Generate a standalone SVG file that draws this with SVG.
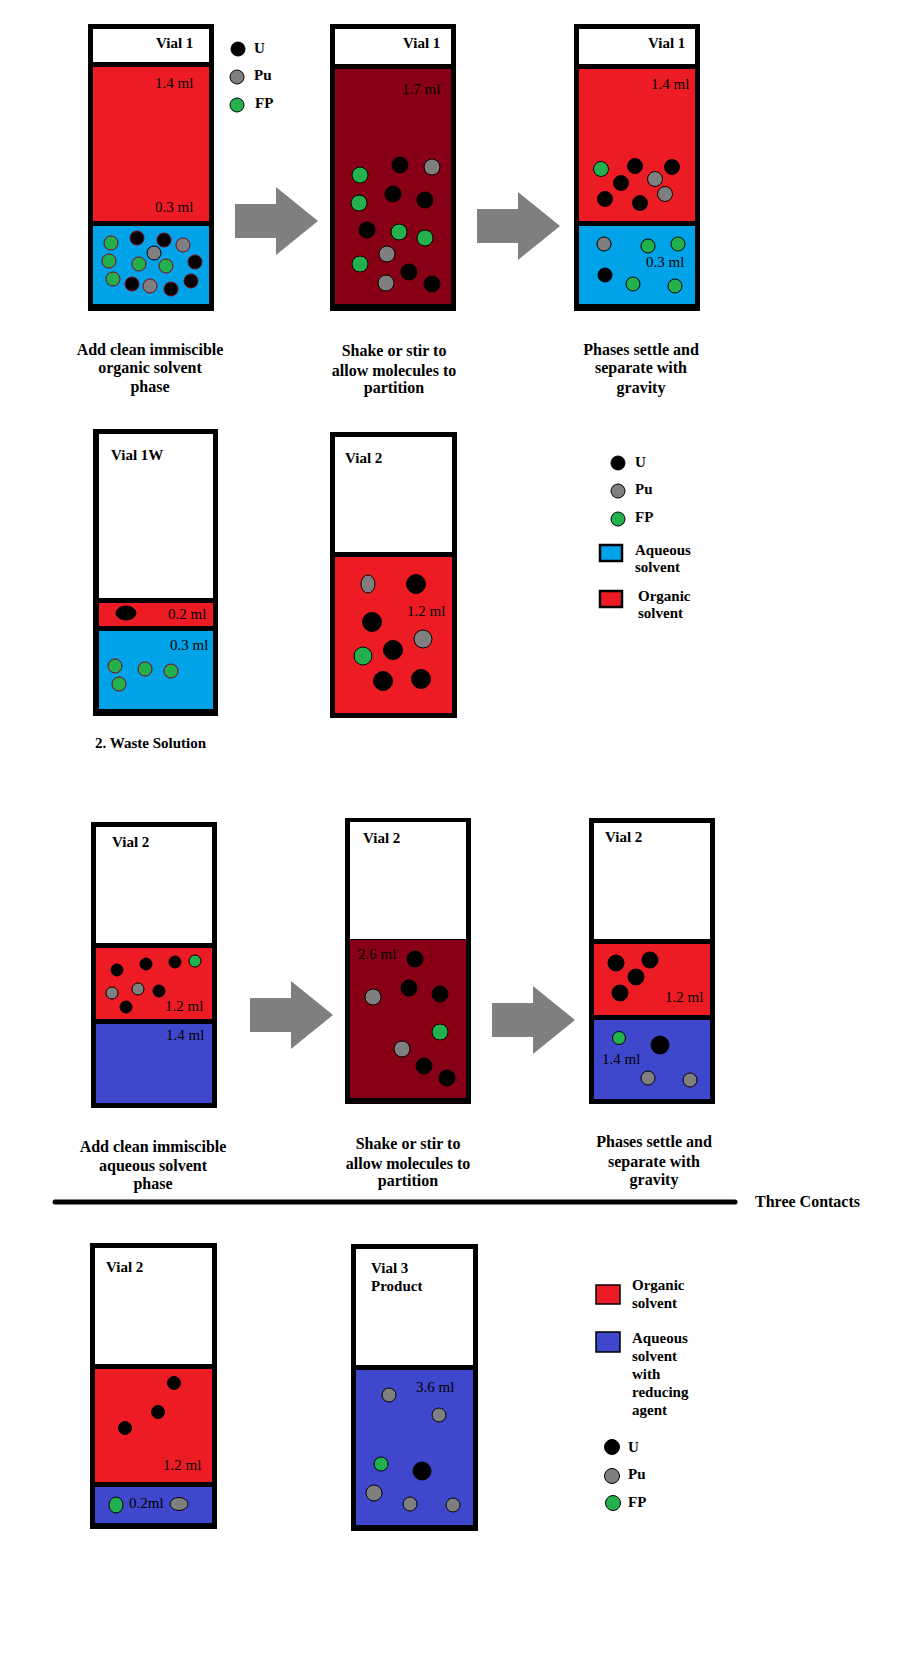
<svg xmlns="http://www.w3.org/2000/svg" width="904" height="1672" viewBox="0 0 904 1672">
<style>
.frame{fill:#000}
.w{fill:#fff}
.r{fill:#ed1c24}
.b{fill:#00a2e8}
.dr{fill:#880015}
.v{fill:#3f48cc}
.u{fill:#000;stroke:#000;stroke-width:1}
.pu{fill:#7f7f7f;stroke:#000;stroke-width:1}
.fp{fill:#22b14c;stroke:#000;stroke-width:1}
.rs{stroke:#880015}
text{font-family:"Liberation Serif","Times New Roman",serif;fill:#000}
.t{font-size:15px;font-weight:bold}
.ml{font-size:15px}
.cap{font-size:16px;font-weight:bold;text-anchor:middle}
.arrow{fill:#7f7f7f}
</style>
<defs>
<path id="arr" d="M0,-17 H41 V-34 L83,0 L41,34 V17 H0 Z"/>
</defs>
<rect width="904" height="1672" fill="#fff"/>

<g id="vialA">
<rect class="frame" x="88" y="24" width="126" height="287"/>
<rect class="w" x="93" y="29" width="116" height="33"/>
<rect class="r" x="93" y="67" width="116" height="154"/>
<rect class="b" x="93" y="226" width="116" height="78"/>
<text class="t" x="156" y="48">Vial 1</text>
<text class="ml" x="155" y="88">1.4 ml</text>
<text class="ml" x="155" y="212">0.3 ml</text>
<circle class="fp rs" cx="111" cy="243" r="7"/>
<circle class="u rs" cx="137" cy="238" r="7"/>
<circle class="u rs" cx="164" cy="240" r="7"/>
<circle class="pu rs" cx="183" cy="245" r="7"/>
<circle class="pu" cx="154" cy="253" r="7"/>
<circle class="fp rs" cx="109" cy="261" r="7"/>
<circle class="fp rs" cx="139" cy="264" r="7"/>
<circle class="fp rs" cx="166" cy="266" r="7"/>
<circle class="u rs" cx="195" cy="262" r="7"/>
<circle class="fp rs" cx="113" cy="279" r="7"/>
<circle class="u rs" cx="132" cy="284" r="7"/>
<circle class="pu rs" cx="150" cy="286" r="7"/>
<circle class="u rs" cx="171" cy="289" r="7"/>
<circle class="u rs" cx="191" cy="281" r="7"/>
</g>

<g id="legend1">
<circle class="u" cx="238" cy="49" r="7"/>
<text class="t" x="254" y="53">U</text>
<circle class="pu" cx="237" cy="77" r="7"/>
<text class="t" x="254" y="80">Pu</text>
<circle class="fp" cx="237" cy="105" r="7"/>
<text class="t" x="255" y="108">FP</text>
</g>

<g id="vialB">
<rect class="frame" x="330" y="24" width="126" height="287"/>
<rect class="w" x="335" y="29" width="116" height="35"/>
<rect class="dr" x="335" y="69" width="116" height="235"/>
<text class="t" x="403" y="48">Vial 1</text>
<text class="ml" x="402" y="94">1.7 ml</text>
<circle class="fp" cx="360" cy="175" r="8"/>
<circle class="u" cx="400" cy="165" r="8"/>
<circle class="pu" cx="432" cy="167" r="8"/>
<circle class="u" cx="393" cy="194" r="8"/>
<circle class="fp" cx="359" cy="203" r="8"/>
<circle class="u" cx="425" cy="200" r="8"/>
<circle class="u" cx="367" cy="230" r="8"/>
<circle class="fp" cx="399" cy="232" r="8"/>
<circle class="fp" cx="425" cy="238" r="8"/>
<circle class="pu" cx="387" cy="254" r="8"/>
<circle class="fp" cx="360" cy="264" r="8"/>
<circle class="u" cx="409" cy="272" r="8"/>
<circle class="pu" cx="386" cy="283" r="8"/>
<circle class="u" cx="432" cy="284" r="8"/>
</g>

<g id="vialC">
<rect class="frame" x="574" y="24" width="126" height="287"/>
<rect class="w" x="579" y="29" width="116" height="35"/>
<rect class="r" x="579" y="69" width="116" height="152"/>
<rect class="b" x="579" y="226" width="116" height="78"/>
<text class="t" x="648" y="48">Vial 1</text>
<text class="ml" x="651" y="89">1.4 ml</text>
<text class="ml" x="646" y="267">0.3 ml</text>
<circle class="fp" cx="601" cy="169" r="7.5"/>
<circle class="u" cx="635" cy="166" r="7.5"/>
<circle class="u" cx="672" cy="167" r="7.5"/>
<circle class="u" cx="621" cy="183" r="7.5"/>
<circle class="pu" cx="655" cy="179" r="7.5"/>
<circle class="pu" cx="665" cy="194" r="7.5"/>
<circle class="u" cx="605" cy="199" r="7.5"/>
<circle class="u" cx="640" cy="203" r="7.5"/>
<circle class="pu" cx="604" cy="244" r="7"/>
<circle class="fp" cx="648" cy="246" r="7"/>
<circle class="fp" cx="678" cy="244" r="7"/>
<circle class="u" cx="605" cy="275" r="7"/>
<circle class="fp" cx="633" cy="284" r="7"/>
<circle class="fp" cx="675" cy="286" r="7"/>
</g>

<g id="caption1">
<text class="cap" x="150" y="355">Add clean immiscible</text>
<text class="cap" x="150" y="373">organic solvent</text>
<text class="cap" x="150" y="392">phase</text>
</g>
<g id="caption2">
<text class="cap" x="394" y="356">Shake or stir to</text>
<text class="cap" x="394" y="376">allow molecules to</text>
<text class="cap" x="394" y="393">partition</text>
</g>
<g id="caption3">
<text class="cap" x="641" y="355">Phases settle and</text>
<text class="cap" x="641" y="373">separate with</text>
<text class="cap" x="641" y="393">gravity</text>
</g>

<g id="vialD">
<rect class="frame" x="93" y="429" width="125" height="287"/>
<rect class="w" x="99" y="434" width="114" height="164"/>
<rect class="r" x="99" y="603" width="114" height="23"/>
<rect class="b" x="99" y="631" width="114" height="78"/>
<text class="t" x="111" y="460">Vial 1W</text>
<ellipse class="u" cx="126" cy="613" rx="10" ry="7"/>
<text class="ml" x="168" y="619">0.2 ml</text>
<text class="ml" x="170" y="650">0.3 ml</text>
<circle class="fp rs" cx="115" cy="666" r="7"/>
<circle class="fp rs" cx="145" cy="669" r="7"/>
<circle class="fp rs" cx="171" cy="671" r="7"/>
<circle class="fp rs" cx="119" cy="684" r="7"/>
<text class="t" x="95" y="748">2. Waste Solution</text>
</g>

<g id="vialE">
<rect class="frame" x="330" y="432" width="127" height="286"/>
<rect class="w" x="335" y="437" width="117" height="115"/>
<rect class="r" x="335" y="557" width="117" height="156"/>
<text class="t" x="345" y="463">Vial 2</text>
<text class="ml" x="407" y="616">1.2 ml</text>
<ellipse class="pu" cx="368" cy="584" rx="7" ry="9"/>
<circle class="u" cx="416" cy="584" r="9.5"/>
<circle class="u" cx="372" cy="622" r="9.5"/>
<circle class="pu" cx="423" cy="639" r="9"/>
<circle class="u" cx="393" cy="650" r="9.5"/>
<circle class="fp" cx="363" cy="656" r="9"/>
<circle class="u" cx="383" cy="681" r="9.5"/>
<circle class="u" cx="421" cy="679" r="9.5"/>
</g>

<g id="legend2">
<circle class="u" cx="618" cy="463" r="7"/>
<text class="t" x="635" y="467">U</text>
<circle class="pu" cx="618" cy="491" r="7"/>
<text class="t" x="635" y="494">Pu</text>
<circle class="fp" cx="618" cy="519" r="7"/>
<text class="t" x="635" y="522">FP</text>
<rect x="600" y="545" width="22" height="16" fill="#00a2e8" stroke="#000" stroke-width="2.5"/>
<text class="t" x="635" y="555">Aqueous</text>
<text class="t" x="635" y="572">solvent</text>
<rect x="600" y="591" width="22" height="16" fill="#ed1c24" stroke="#000" stroke-width="2.5"/>
<text class="t" x="638" y="601">Organic</text>
<text class="t" x="638" y="618">solvent</text>
</g>

<g id="vialF">
<rect class="frame" x="91" y="822" width="126" height="286"/>
<rect class="w" x="96" y="827" width="116" height="116"/>
<rect class="r" x="96" y="948" width="116" height="71"/>
<rect class="v" x="96" y="1024" width="116" height="79"/>
<text class="t" x="112" y="847">Vial 2</text>
<text class="ml" x="165" y="1011">1.2 ml</text>
<text class="ml" x="166" y="1040">1.4 ml</text>
<circle class="u" cx="117" cy="970" r="6"/>
<circle class="u" cx="146" cy="964" r="6"/>
<circle class="u" cx="175" cy="962" r="6"/>
<circle class="fp" cx="195" cy="961" r="6"/>
<circle class="pu" cx="112" cy="993" r="6"/>
<circle class="pu" cx="138" cy="989" r="6"/>
<circle class="u" cx="159" cy="991" r="6"/>
<circle class="u" cx="126" cy="1007" r="6"/>
</g>

<g id="vialG">
<rect class="frame" x="345" y="818" width="126" height="286"/>
<rect class="w" x="350" y="822" width="116" height="117"/>
<rect class="dr" x="350" y="940" width="116" height="158"/>
<text class="t" x="363" y="843">Vial 2</text>
<text class="ml" x="358" y="959">2.6 ml</text>
<circle class="u" cx="415" cy="959" r="8"/>
<circle class="u" cx="409" cy="988" r="8"/>
<circle class="u" cx="440" cy="994" r="8"/>
<circle class="pu" cx="373" cy="997" r="8"/>
<circle class="fp" cx="440" cy="1032" r="8"/>
<circle class="pu" cx="402" cy="1049" r="8"/>
<circle class="u" cx="424" cy="1066" r="8"/>
<circle class="u" cx="447" cy="1078" r="8"/>
</g>

<g id="vialH">
<rect class="frame" x="589" y="818" width="126" height="286"/>
<rect class="w" x="594" y="823" width="116" height="116"/>
<rect class="r" x="594" y="944" width="116" height="71"/>
<rect class="v" x="594" y="1020" width="116" height="79"/>
<text class="t" x="605" y="842">Vial 2</text>
<text class="ml" x="665" y="1002">1.2 ml</text>
<text class="ml" x="602" y="1064">1.4 ml</text>
<circle class="u" cx="616" cy="963" r="8"/>
<circle class="u" cx="650" cy="960" r="8"/>
<circle class="u" cx="636" cy="977" r="8"/>
<circle class="u" cx="620" cy="993" r="8"/>
<circle class="fp" cx="619" cy="1038" r="6.5"/>
<circle class="u" cx="660" cy="1045" r="9"/>
<circle class="pu" cx="648" cy="1078" r="7"/>
<circle class="pu" cx="690" cy="1080" r="7"/>
</g>

<g id="caption4">
<text class="cap" x="153" y="1152">Add clean immiscible</text>
<text class="cap" x="153" y="1171">aqueous solvent</text>
<text class="cap" x="153" y="1189">phase</text>
</g>
<g id="caption5">
<text class="cap" x="408" y="1149">Shake or stir to</text>
<text class="cap" x="408" y="1169">allow molecules to</text>
<text class="cap" x="408" y="1186">partition</text>
</g>
<g id="caption6">
<text class="cap" x="654" y="1147">Phases settle and</text>
<text class="cap" x="654" y="1167">separate with</text>
<text class="cap" x="654" y="1185">gravity</text>
</g>

<g id="divider">
<line x1="55" y1="1202" x2="735" y2="1202" stroke="#000" stroke-width="5" stroke-linecap="round"/>
<text class="t" x="755" y="1207" style="font-size:16px">Three Contacts</text>
</g>

<g id="vialI">
<rect class="frame" x="90" y="1243" width="127" height="286"/>
<rect class="w" x="95" y="1248" width="117" height="116"/>
<rect class="r" x="95" y="1369" width="117" height="113"/>
<rect class="v" x="95" y="1487" width="117" height="36"/>
<text class="t" x="106" y="1272">Vial 2</text>
<text class="ml" x="163" y="1470">1.2 ml</text>
<circle class="u" cx="174" cy="1383" r="6.5"/>
<circle class="u" cx="158" cy="1412" r="6.5"/>
<circle class="u" cx="125" cy="1428" r="6.5"/>
<ellipse class="fp" cx="116" cy="1505" rx="7" ry="8"/>
<text class="ml" x="129" y="1508">0.2ml</text>
<ellipse class="pu" cx="179" cy="1504" rx="9" ry="6.5"/>
</g>

<g id="vialJ">
<rect class="frame" x="351" y="1244" width="127" height="287"/>
<rect class="w" x="356" y="1249" width="117" height="116"/>
<rect class="v" x="356" y="1370" width="117" height="155"/>
<text class="t" x="371" y="1273">Vial 3</text>
<text class="t" x="371" y="1291">Product</text>
<text class="ml" x="416" y="1392">3.6 ml</text>
<circle class="pu" cx="389" cy="1395" r="7"/>
<circle class="pu" cx="439" cy="1415" r="7"/>
<circle class="fp" cx="381" cy="1464" r="7"/>
<circle class="u" cx="422" cy="1471" r="9"/>
<circle class="pu" cx="374" cy="1493" r="8"/>
<circle class="pu" cx="410" cy="1504" r="7"/>
<circle class="pu" cx="453" cy="1505" r="7"/>
</g>

<g id="legend3">
<rect x="596" y="1285" width="24" height="19" fill="#ed1c24" stroke="#000" stroke-width="1.5"/>
<text class="t" x="632" y="1290">Organic</text>
<text class="t" x="632" y="1308">solvent</text>
<rect x="596" y="1332" width="24" height="20" fill="#3f48cc" stroke="#000" stroke-width="1.5"/>
<text class="t" x="632" y="1343">Aqueous</text>
<text class="t" x="632" y="1361">solvent</text>
<text class="t" x="632" y="1379">with</text>
<text class="t" x="632" y="1397">reducing</text>
<text class="t" x="632" y="1415">agent</text>
<circle class="u" cx="612" cy="1447" r="7.5"/>
<text class="t" x="628" y="1452">U</text>
<circle class="pu" cx="612" cy="1476" r="7.5"/>
<text class="t" x="628" y="1479">Pu</text>
<circle class="fp" cx="613" cy="1503" r="7.5"/>
<text class="t" x="628" y="1507">FP</text>
</g>

<g id="connectors">
<use href="#arr" class="arrow" x="235" y="221"/>
<use href="#arr" class="arrow" x="477" y="226"/>
<use href="#arr" class="arrow" x="250" y="1015"/>
<use href="#arr" class="arrow" x="492" y="1020"/>
</g>
</svg>
